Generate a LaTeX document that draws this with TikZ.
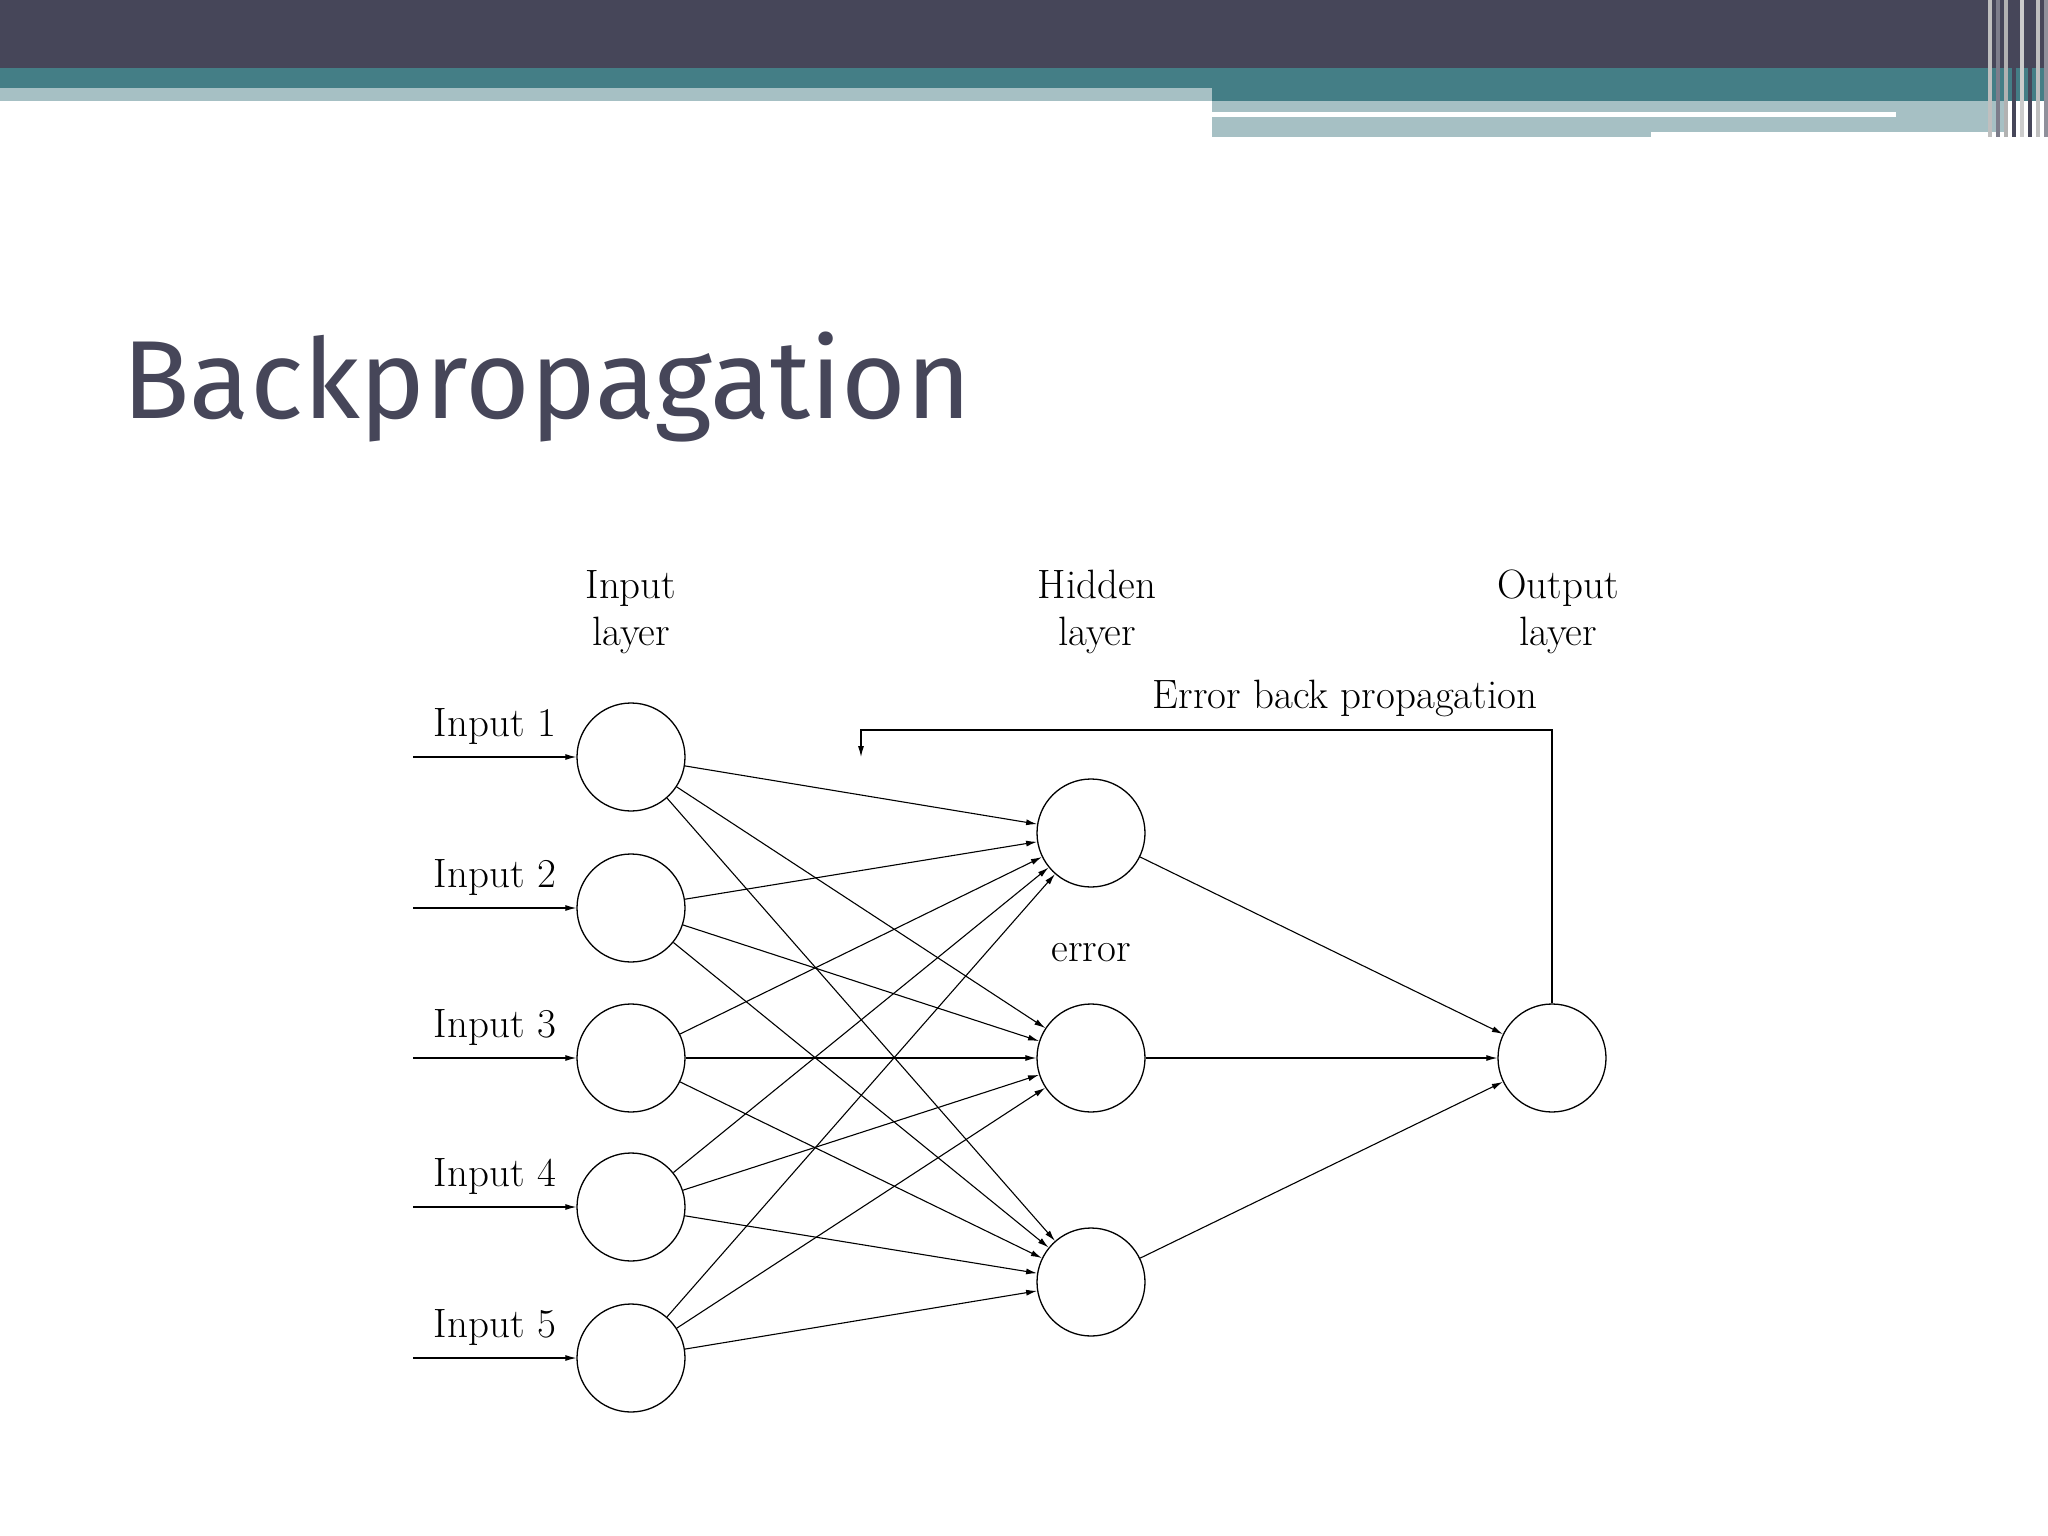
\documentclass[tikz,border=0pt]{standalone}
\usepackage{fontspec}
\newfontfamily\titlefont{Fira Sans}
\usetikzlibrary{arrows.meta}
\definecolor{dark}{HTML}{464659}
\definecolor{teal}{HTML}{447E86}
\definecolor{lteal}{HTML}{A6C0C4}
\begin{document}
\begin{tikzpicture}[x=1pt,y=-1pt,
  neuron/.style={circle,draw,line width=1.3pt,minimum size=108pt,inner sep=0pt},
  conn/.style={line width=1.1pt,-{Latex[length=11pt,width=6pt]}},
  lbl/.style={font=\fontsize{41}{47}\selectfont,align=center}]
\useasboundingbox (0,0) rectangle (2048,1536);
\fill[white] (0,0) rectangle (2048,1536);
% header
\fill[dark] (0,0) rectangle (2048,68);
\fill[teal] (0,68) rectangle (2048,101);
\fill[lteal] (0,88) rectangle (1212,101);
\fill[lteal] (1212,101) rectangle (2008,137);
\fill[white] (1212,112) rectangle (1896,117);
\fill[white] (1651,132) rectangle (2008,137);
\foreach \x/\c in {1988/gray!50,1996/dark!70,2004/gray!60,2012/dark,2020/gray!40,2028/dark,2036/gray!50,2044/dark!60}
  \fill[\c] (\x,0) rectangle (\x+4,137);
% title
\node[anchor=base west,inner sep=0pt,text=dark,font=\titlefont\fontsize{111}{120}\selectfont] (title) at (122,418) {Backpropagation};
% nodes
\foreach \i/\y in {1/757,2/908,3/1058,4/1207,5/1358}{
  \node[neuron] (i\i) at (631,\y) {};
  \coordinate (s\i) at (413,\y);
  \draw[conn] (s\i) -- (i\i);
  \node[lbl,anchor=base] (l\i) at (495,\y-21) {Input~\i};
}
\foreach \j/\y in {1/833,2/1058,3/1282}{
  \node[neuron] (h\j) at (1091,\y) {};
}
\node[neuron] (o) at (1552,1058) {};
\foreach \i in {1,...,5}\foreach \j in {1,2,3}{\draw[conn] (i\i) -- (h\j);}
\foreach \j in {1,2,3}{\draw[conn] (h\j) -- (o);}
\node[lbl] (li) at (631,612) {Input\\layer};
\node[lbl] (lh) at (1097,612) {Hidden\\layer};
\node[lbl] (lo) at (1558,612) {Output\\layer};
\node[lbl] (eb) at (1345,698) {Error back propagation};
\node[lbl] (er) at (1091,953) {error};
\coordinate (fb) at (861,757);
\draw[conn] (o.north) |- (861,730) -- (fb);
\end{tikzpicture}
\end{document}
